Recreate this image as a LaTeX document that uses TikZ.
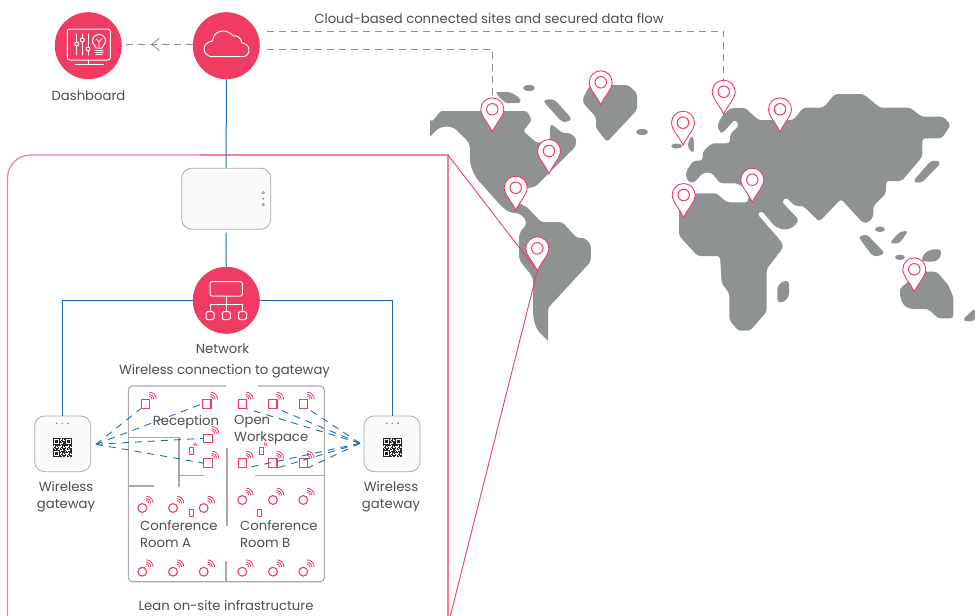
\documentclass[tikz,border=0pt]{standalone}
\usepackage{fontspec}
\setmainfont{Poppins}
\usepackage{xcolor}
\usetikzlibrary{positioning,calc}
\definecolor{accent}{HTML}{F03C63}
\definecolor{sitepink}{HTML}{F47F96}
\definecolor{landgrey}{HTML}{8F9292}
\definecolor{linkblue}{HTML}{1C6EB4}
\definecolor{dashgrey}{HTML}{8E8E8E}
\definecolor{wallgrey}{HTML}{A9A9A9}
\definecolor{labelgrey}{HTML}{4D4D4D}

\begin{document}
\begin{tikzpicture}[
    x=1pt,y=-1pt,
    hub/.style={circle,fill=accent,draw=none,minimum size=67pt,inner sep=0pt},
    device/.style={rectangle,draw=wallgrey,thick,fill=black!2,rounded corners=10pt,inner sep=0pt},
    link/.style={linkblue,line width=1pt},
    radiolink/.style={linkblue,line width=0.9pt,dash pattern=on 7pt off 6pt},
    cloudlink/.style={dashgrey,line width=0.9pt,dash pattern=on 7pt off 5pt},
    icon/.style={white,line width=1pt,line join=round,line cap=round},
    land/.style={fill=landgrey,rounded corners=3pt},
    wall/.style={wallgrey,line width=1.1pt},
    label/.style={font=\fontsize{13.2}{17}\selectfont,text=labelgrey,align=center,inner sep=0pt},
    roomlabel/.style={label,align=left,anchor=north west},
    sensorsq/.style={rectangle,draw=accent,line width=1.1pt,minimum size=8.5pt,inner sep=0pt},
    sensorc/.style={circle,draw=accent,line width=1.1pt,minimum size=8.8pt,inner sep=0pt},
    tag/.style={rectangle,draw=accent,line width=0.8pt,minimum width=4pt,minimum height=7pt,inner sep=0pt},
    wave/.style={accent,line width=0.8pt},
    pinhole/.style={circle,draw=accent,line width=1pt,minimum size=11.5pt,inner sep=0pt},
    waves/.pic={\foreach \r in {3,5,7.2}{\draw[wave] (0:\r pt) arc[start angle=0,end angle=88,radius=\r pt];}},
    tinywaves/.pic={\foreach \r in {1.5,3}{\draw[wave] (0:\r pt) arc[start angle=0,end angle=88,radius=\r pt];}}
]
\useasboundingbox (0,0) rectangle (975,616);

% map
\fill[land] (430,119.3) to[out=-70,in=180] (445,111) -- (527,111) -- (532,120) -- (523,131) -- (537,143) -- (550,140) -- (550,125) -- (553,125) -- (562,133) -- (570,133) -- (576,138) -- (576,146) -- (548,174) -- (535,187) -- (527,188) -- (518,195) -- (520,204) -- (527,207) -- (541,222) -- (562,222) -- (577,238) -- (585,238) -- (591,245) -- (590.7,261.7) -- (548,308) [sharp corners]-- (548,341) [rounded corners=5pt]-- (537,330) -- (533,317) -- (533,277) -- (519,260) -- (519,233) -- (528,223) -- (520,213) -- (510,213) -- (501.7,206.7) -- (475,176.7) -- (470,163.3) -- (470,143.3) -- (453,126.7) -- (440,126.7) [sharp corners]-- (430,136.7) -- cycle;
\fill[land] (583,98) -- (590,85) -- (628,85) -- (637,93) -- (637,110) -- (607,142) -- (596,128) -- (596,117) -- (583,103) -- cycle;
\fill[land] (495,92) -- (510,92) -- (520,98) -- (521,103) -- (505,103) -- cycle;
\fill[land] (543,101) -- (548,99) -- (555,100) -- (572,119) -- (567,122) -- (562,122) -- cycle;
\fill[landgrey] (529,88) ellipse (6 and 3);
\fill[landgrey] (642,132) ellipse (6 and 3);
\fill[land] (717.3,125) -- (721.7,116.7) -- (730,108.3) -- (745,107.7) -- (758.3,120) -- (793.3,120) -- (803.3,107.7) -- (823.3,107.7) -- (835,94) -- (863.3,94) -- (880,107.7) -- (910,107.7) -- (921.7,116.7) -- (943.3,116.7) -- (950.7,125) -- (941.7,138.3) -- (922.3,138.3) -- (922.3,156.7) -- (901.7,181) -- (886,181) -- (886,193.3) -- (873.3,206) -- (873.3,216.7) -- (868.3,222.7) -- (862.7,222.7) -- (841,199) -- (819.3,221.7) -- (803.3,206) -- (795,206) -- (786,197.3) -- (781.7,201.7) -- (799,220) -- (793.3,227.3) -- (785,230) -- (775,226.7) -- (761.7,210.7) -- (757.3,214) -- (782.7,243.3) -- (782.7,248.3) -- (766.7,269) -- (766.7,311.7) -- (750,330.7) -- (738.3,330.7) -- (729.3,320) -- (729.3,293.3) -- (721.7,283.3) -- (720,256) -- (697.7,256) -- (679,235.7) -- (679,203.3) -- (695,193.3) -- (716.7,193.3) -- (726.7,202.3) -- (748.3,202.3) -- (748.3,190) -- (737.3,183.3) -- (720,183.3) -- (711.7,172.7) -- (703.3,172.7) -- (693.3,183.3) -- (688.3,181.7) -- (686,176.7) -- (686,171.7) -- (693.3,160.7) -- (702.7,160.7) -- (702.7,151.7) -- (711.7,143.3) -- (730,143.3) -- (730,134.3) -- (739.3,125) -- (735,119.3) -- (722.3,133.3) -- (719.3,131.7) -- cycle;
\fill[land] (691.7,135) -- (694,140) -- (694,152.7) -- (690,151) -- (687.3,145) -- cycle;
\fill[landgrey] (676.7,146) ellipse (5.5 and 2.5);
\fill[land] (913.3,181) -- (930,161.7) -- (936.7,160) -- (940.7,163.3) -- (921.7,182.7) -- (916.7,182.7) -- cycle;
\fill[land] (777.3,286.7) -- (781.7,281.7) -- (789,280.7) -- (789,296.7) -- (783.3,302.3) -- (777.3,302.3) -- cycle;
\fill[land] (858.3,236.7) -- (866.7,234.3) -- (885,253.3) -- (876.7,256.7) -- (871.7,255) -- cycle;
\fill[land] (890,242.3) -- (900,231.7) -- (908.3,230.7) -- (900,242.7) -- (893.3,244) -- cycle;
\fill[landgrey] (880,229.3) ellipse (5 and 2.7);
\fill[landgrey] (900,257.3) ellipse (5 and 2.7);
\fill[land] (921,260) -- (925,252.7) -- (931.7,249.3) -- (941,249.3) -- (941,256.7) -- (935,261.7) -- (925,261.7) -- cycle;
\fill[land] (900,288.3) -- (908.3,281.7) -- (913.3,271.7) -- (936.7,271.7) -- (948.3,285) -- (953.3,296.7) -- (953.3,318.3) -- (938.3,318.3) -- (928.3,309) -- (910,309) -- (903.3,305) -- (900,296.7) -- cycle;
\fill[land] (962.7,319.3) -- (975,308.3) -- (975,320.7) -- (966.7,321.7) -- cycle;

% on-site frame and its two rays to the marked site
\coordinate (framecorner) at (448,155);
\coordinate (framefoot) at (450.3,616);
\draw[sitepink,line width=1.3pt,rounded corners=23pt] (7.5,616) -- (7.5,155) -- (200,155);
\draw[sitepink,line width=1.3pt] (200,155) -- (framecorner) -- (448,616);

% map pins
\foreach \n/\x/\y in {pinA/492.3/109.3,pinB/549/151,pinC/515.7/187.7,pinD/537.3/248.3,pinE/600.7/82.3,pinF/683/122.7,pinG/683.7/195,pinH/723.7/91.7,pinI/780/109.3,pinJ/752.3/179.7,pinK/914.3/269.3}{
  \coordinate (\n tip) at (\x,\y+22.6);
  \coordinate (\n top) at (\x,\y-11.5);
}
\draw[accent,line width=0.9pt] (framecorner) -- (pinDtip) -- (framefoot);
\foreach \n/\x/\y in {pinA/492.3/109.3,pinB/549/151,pinC/515.7/187.7,pinD/537.3/248.3,pinE/600.7/82.3,pinF/683/122.7,pinG/683.7/195,pinH/723.7/91.7,pinI/780/109.3,pinJ/752.3/179.7,pinK/914.3/269.3}{
  \filldraw[draw=accent,fill=white,line width=0.9pt] (\n tip) .. controls (\x-3,\y+15) and (\x-11.5,\y+7) .. (\x-11.5,\y) .. controls (\x-11.5,\y-6.3) and (\x-6.3,\y-11.5) .. (\n top) .. controls (\x+6.3,\y-11.5) and (\x+11.5,\y-6.3) .. (\x+11.5,\y) .. controls (\x+11.5,\y+7) and (\x+3,\y+15) .. (\n tip) -- cycle;
  \node[pinhole] (\n) at (\x,\y) {};
}

% hubs
\node[hub] (dashboard) at (88.3,45.7) {};
\node[hub] (cloud) at (226.3,45.7) {};
\node[hub] (network) at (226.3,300.3) {};
\node[device,minimum width=89pt,minimum height=61pt] (router) at (226.2,198.7) {};
\node[device,minimum width=56pt,minimum height=55.7pt] (gwleft) at (62.7,443.8) {};
\node[device,minimum width=56pt,minimum height=55.7pt] (gwright) at (392,443.8) {};

% connectors
\draw[link] (cloud) -- (router);
\draw[link] ([yshift=-3pt]router.south) -- (network);
\draw[link] (network.west) -| (gwleft.north);
\draw[link] (network.east) -| (gwright.north);

\coordinate (cloudup) at (267,31);
\coordinate (clouddown) at (267,49.5);
\draw[cloudlink] (cloudup) -| (pinHtop);
\draw[cloudlink] (clouddown) -| (pinAtop);
\draw[cloudlink] ([yshift=1.4pt]cloud.west) -- ([yshift=1.4pt]dashboard.east);
\coordinate (chevron) at (151.7,44.3);
\draw[dashgrey,line width=0.9pt] (159.3,38.3) -- (chevron) -- (159.3,50.7);

% cloud icon
\draw[icon] (212,56.7) -- (243,56.7) .. controls (247,56.7) and (249,53) .. (249,50) .. controls (249,46) and (246,43.5) .. (242,43) .. controls (241,37) and (236,35) .. (233,36) .. controls (231,33) and (227,31) .. (223,31) .. controls (217,31) and (213,35) .. (212.5,41) .. controls (207,42) and (204,45) .. (204,49) .. controls (204,53) and (208,56.7) .. (212,56.7) -- cycle;

% dashboard icon
\draw[icon,rounded corners=2.5pt] (67.3,29) rectangle (110.3,60);
\draw[icon] (88.9,60) -- (88.9,64.3) (75,64.3) -- (103.3,64.3);
\foreach \x/\k in {76.7/44,82.3/40,88/49}{
  \draw[icon] (\x,34) -- (\x,\k-2) (\x,\k+2) -- (\x,55);
  \draw[icon] (\x,\k) circle (2pt);
}
\draw[icon] (96,48) .. controls (96,45) and (92.5,45) .. (92.5,41) .. controls (92.5,37) and (95.5,34.5) .. (99,34.5) .. controls (102.5,34.5) and (105.5,37) .. (105.5,41) .. controls (105.5,45) and (102,45) .. (102,48) -- cycle;
\draw[icon,line width=0.8pt] (96.5,39) -- (99,42) -- (101.5,39) (99,42) -- (99,47);
\draw[icon] (95,50.3) -- (103,50.3) (95,52.6) -- (103,52.6) (96,54.8) -- (102,54.8);

% network icon
\draw[icon,rounded corners=2pt] (210,281.7) rectangle (242.3,296);
\draw[icon] (226.3,296) -- (226.3,311.7) (210,311.7) -- (210,304) -- (242.5,304) -- (242.5,311.7);
\foreach \x in {210,226.3,242.5}{
  \draw[icon,rounded corners=1.5pt] (\x-4,311.7) rectangle (\x+4,319.7);
}

% device details
\foreach \y/\s in {192.7/1.2,198.7/0.6,204.7/1.2}{
  \draw[black!50,line width=0.5pt] (263.3,\y) circle (\s pt);
}
\foreach \gx in {62.3,392.3}{
  \foreach \d/\s in {-5.6/1,0/0.8,5.7/1}{
    \fill[black!45] (\gx+\d,423.3) circle (\s pt);
  }
  \foreach \i in {0,...,18}{
    \foreach \j in {0,...,18}{
      \pgfmathparse{int(mod(\i*\i*3+\j*\j*5+\i*\j*2+\i,7))}
      \ifnum\pgfmathresult<4 \fill[black!85] (\gx-9.5+\i,438.2+\j) rectangle ++(1,1);\fi
    }
  }
  \foreach \cx/\cy in {0/0,12/0,0/12}{
    \fill[black!85] (\gx-9.5+\cx,438.2+\cy) rectangle ++(7,7);
    \fill[white] (\gx-8.5+\cx,439.2+\cy) rectangle ++(5,5);
    \fill[black!85] (\gx-7.5+\cx,440.2+\cy) rectangle ++(3,3);
  }
}

% floor plan
\draw[wall,rounded corners=4pt] (226,386) -- (128.3,386) -- (128.3,581.7) -- (324.3,581.7) -- (324.3,386) -- (258,386);
\draw[wall] (128.3,437.7) -- (179,437.7) -- (179,486.7);
\draw[wall] (179,475.3) -- (204,475.3);
\draw[wall] (128.3,486) -- (154,486);
\draw[wall] (227,447.7) -- (227,526);
\draw[wall] (226,561) -- (226,581.7);
\draw[wall] (254.7,475.3) -- (324.3,475.3);

% sensors
\foreach \n/\x/\y in {recA/145.3/404,recB/206.7/404,recC/208/438.3,recD/208/463,opnA/242.3/404,opnB/272.7/404,opnC/303.3/404,opnD/242.3/463,opnE/272.7/463,opnF/303.3/463}{
  \node[sensorsq] (\n) at (\x,\y) {};
  \pic at (\x+3.7,\y-4.7) {waves};
}
\foreach \n/\x/\y in {cnfA/142.3/508,cnfB/173/508,cnfC/203.7/508,cnfD/242.3/500,cnfE/273/500,cnfF/303.3/500,lowA/142.3/571.7,lowB/173/571.7,lowC/203.7/571.7,lowD/242.3/571.7,lowE/273/571.7,lowF/303.3/571.7}{
  \node[sensorc] (\n) at (\x,\y) {};
  \pic at (\x+3.7,\y-4.7) {waves};
}
\node[tag] (tagA) at (191.3,512.7) {};
\node[tag] (tagB) at (259.3,512.7) {};
\node[tag] (tagC) at (191.3,451) {};
\node[tag] (tagD) at (261.3,450.7) {};
\pic at (193.6,445.8) {tinywaves};
\pic at (264,445.5) {tinywaves};

% radio links
\coordinate (gwltip) at (96,444.3);
\coordinate (gwrtip) at (360,443.3);
\draw[radiolink] (gwltip) -- (recA.south west);
\draw[radiolink] (gwltip) -- (recB.west);
\draw[radiolink] (gwltip) -- (recC.west);
\draw[radiolink] (gwltip) -- (recD.west);
\foreach \s in {opnA,opnB,opnC,opnD,opnE,opnF}{
  \draw[radiolink] (gwrtip) -- (\s.south east);
}

% labels
\node[label] (lbldash) at (88.5,95.5) {Dashboard};
\node[label] (lblcloud) at (489,18.5) {Cloud-based connected sites and secured data flow};
\node[label] (lblnet) at (222.5,349) {Network};
\node[label] (lblwifi) at (224.5,371) {Wireless connection to gateway};
\node[label] (lblgwl) at (66,497) {Wireless\\gateway};
\node[label] (lblgwr) at (391,497) {Wireless\\gateway};
\node[label] (lblrec) at (186,422) {Reception};
\node[roomlabel] (lblopn) at (234,414.5) {Open\\Workspace};
\node[roomlabel] (lblrma) at (140,520.5) {Conference\\Room A};
\node[roomlabel] (lblrmb) at (240,520.5) {Conference\\Room B};
\node[label] (lbllean) at (226,606) {Lean on-site infrastructure};

\end{tikzpicture}
\end{document}
